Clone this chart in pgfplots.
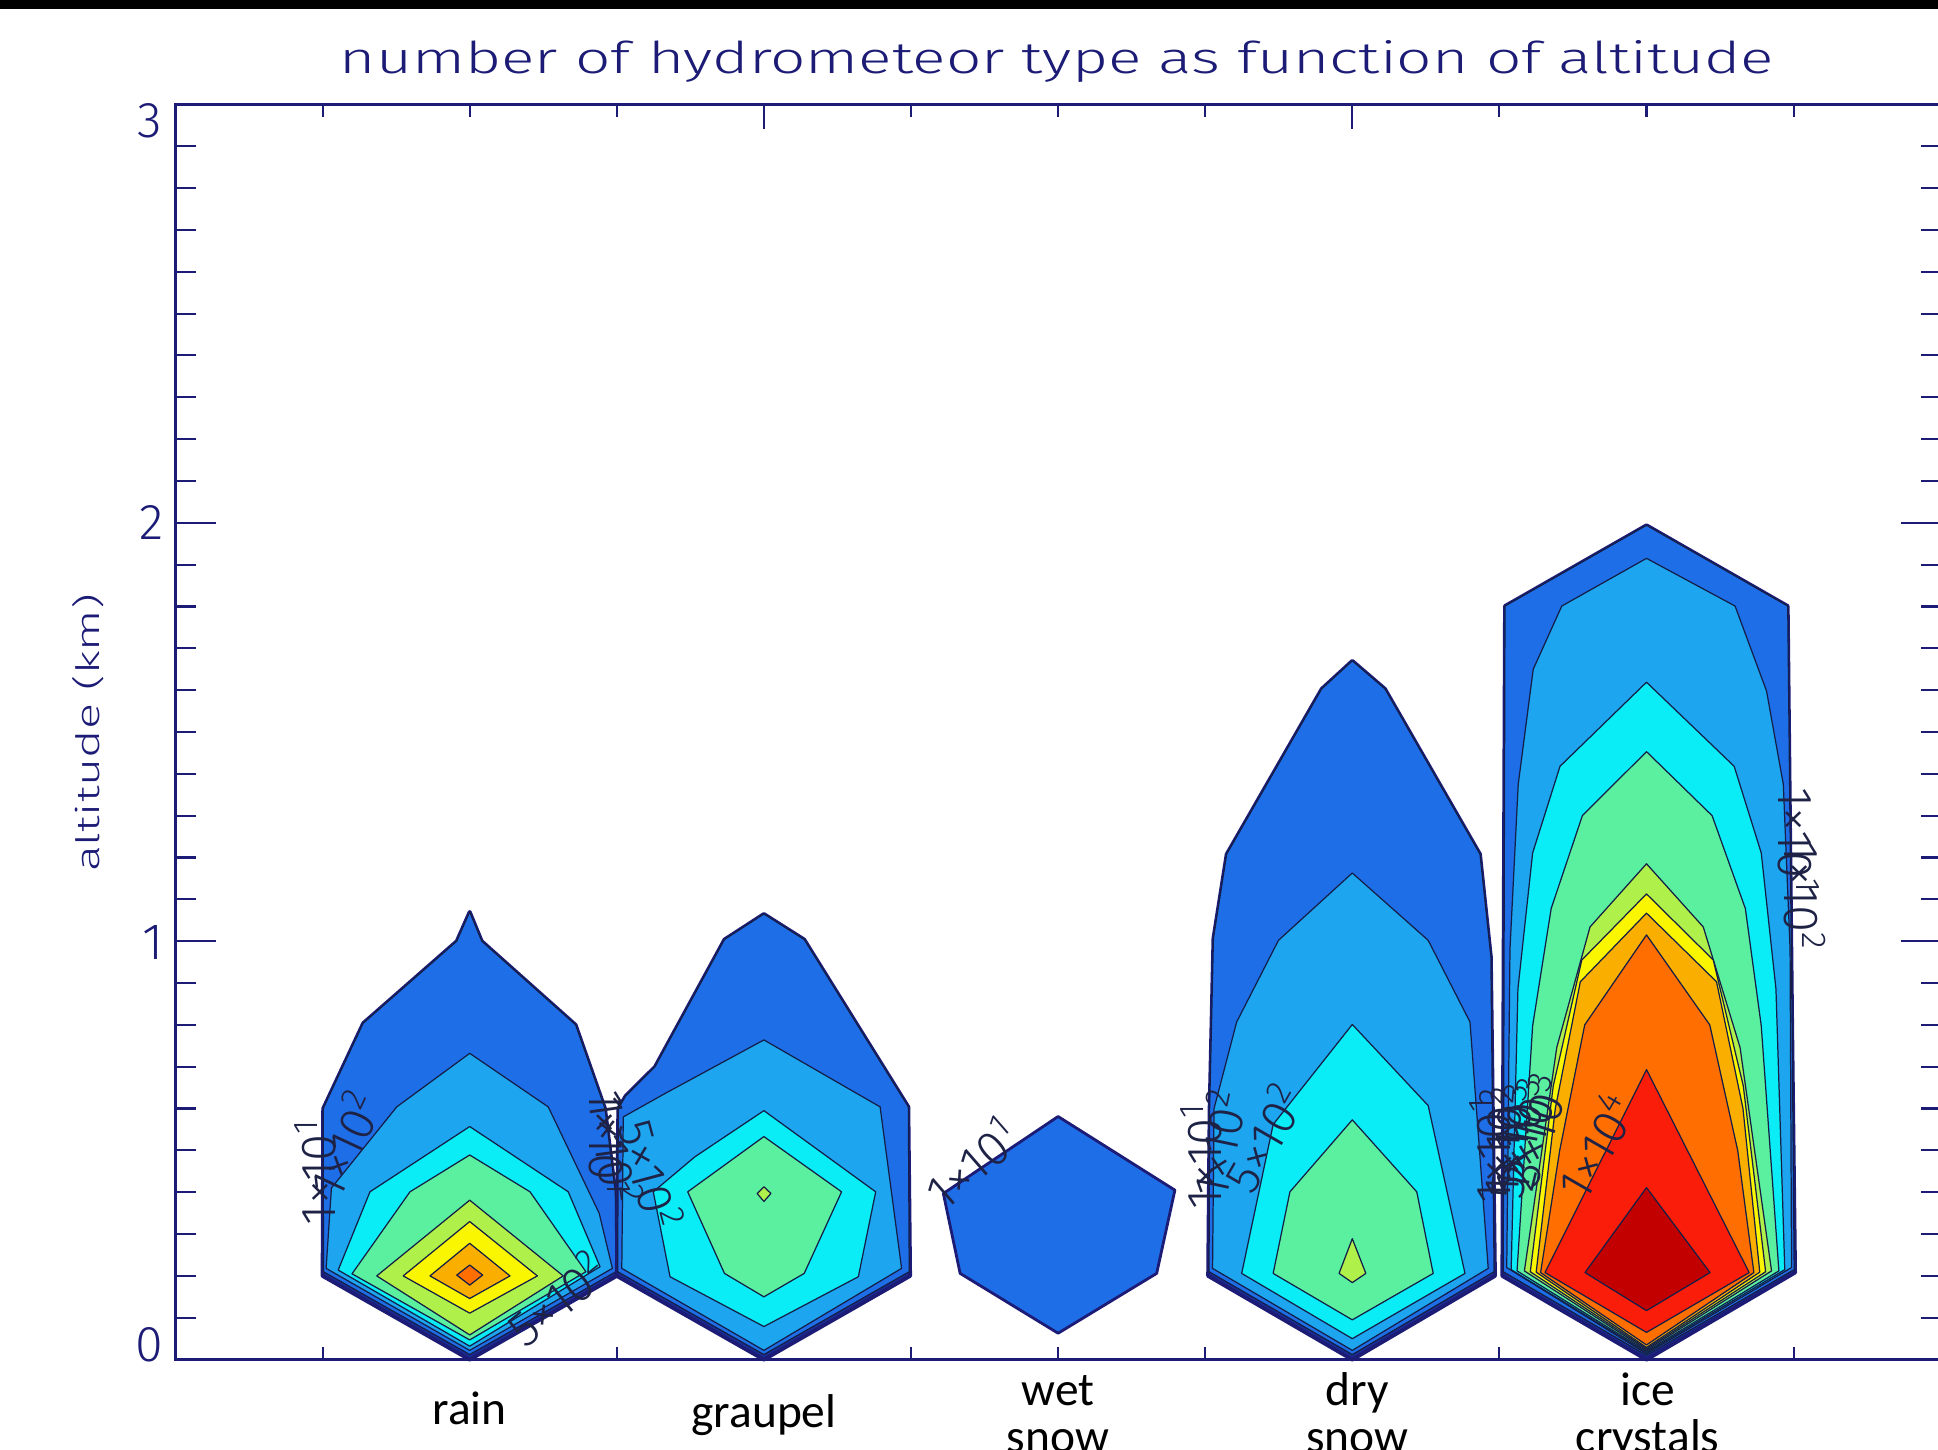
\documentclass[border=0pt]{standalone}
\usepackage{fontspec}
\setmainfont{Carlito}
\newfontfamily\idl{Fira Sans Light}
\usepackage{graphicx}
\usepackage{pgfplots}
\pgfplotsset{compat=1.18}

\definecolor{navy}{RGB}{28,28,118}
\definecolor{cNavy}{RGB}{25,45,150}
\definecolor{cBlue}{RGB}{30,110,232}
\definecolor{cSky}{RGB}{30,165,240}
\definecolor{cCyan}{RGB}{10,236,246}
\definecolor{cAqua}{RGB}{90,240,160}
\definecolor{cLgreen}{RGB}{175,240,75}
\definecolor{cYellow}{RGB}{250,245,0}
\definecolor{cOryel}{RGB}{250,175,0}
\definecolor{cOrange}{RGB}{255,110,0}
\definecolor{cRed}{RGB}{250,30,10}
\definecolor{cDred}{RGB}{195,0,0}
\definecolor{cLine}{RGB}{20,30,70}
\definecolor{labcol}{RGB}{30,35,70}

\newcommand{\sci}[2]{#1×10\textsuperscript{#2}}

\pgfplotsset{
  reg/.style={fill=#1, draw=cLine, line width=0.35pt, line join=round, mark=none},
  outer/.style={fill=cNavy, draw=navy, line width=1.1pt, line join=round, mark=none},
}
\tikzset{
  clabel/.style={font=\idl\fontsize{14}{15}\selectfont, text=labcol, inner sep=0pt},
  cat/.style={font=\fontsize{13.5}{14}\selectfont, text=black, anchor=base, inner sep=0pt},
  tlab/.style={font=\idl, text=navy, inner sep=0pt},
}

\begin{document}
\begin{tikzpicture}
\begin{axis}[
  at={(1.755cm,0.904cm)}, anchor=south west,
  scale only axis, width=17.652cm, height=12.552cm,
  xmin=0, xmax=6, ymin=0, ymax=3,
  xtick={0,2,4,6}, minor x tick num=3,
  ytick={0,1,2,3}, minor y tick num=9,
  xticklabels={}, yticklabels={},
  axis line style={navy, line width=0.8pt},
  xtick style={navy, line width=0.6pt, /pgfplots/major tick length=0.25cm, /pgfplots/minor tick length=0.125cm},
  ytick style={navy, line width=0.6pt, /pgfplots/major tick length=0.40cm, /pgfplots/minor tick length=0.20cm},
  clip=false,
]
% ---- rain
\addplot[outer] coordinates {(0.5,0.2) (0.502,0.6) (0.638,0.804) (0.956,1.0) (1.0,1.07) (1.041,1.0) (1.36,0.80) (1.46,0.60) (1.495,0.40) (1.5,0.2) (1.0,0.0)} -- cycle;
\addplot[reg=cBlue] coordinates {(0.503,0.21) (0.502,0.6) (0.638,0.804) (0.956,1.0) (1.0,1.07) (1.041,1.0) (1.36,0.80) (1.46,0.60) (1.495,0.40) (1.497,0.21) (1.0,0.012)} -- cycle;
\addplot[reg=cSky] coordinates {(0.512,0.218) (0.53,0.41) (0.752,0.604) (1.0,0.732) (1.267,0.604) (1.44,0.35) (1.485,0.218) (1.0,0.022)} -- cycle;
\addplot[reg=cCyan] coordinates {(0.553,0.214) (0.661,0.401) (1.0,0.557) (1.335,0.401) (1.443,0.222) (1.0,0.032)} -- cycle;
\addplot[reg=cAqua] coordinates {(0.60,0.205) (0.797,0.401) (1.0,0.489) (1.205,0.401) (1.395,0.21) (1.0,0.047)} -- cycle;
\addplot[reg=cLgreen] coordinates {(0.684,0.20) (1.0,0.381) (1.318,0.20) (1.0,0.059)} -- cycle;
\addplot[reg=cYellow] coordinates {(0.774,0.20) (1.0,0.330) (1.23,0.20) (1.0,0.111)} -- cycle;
\addplot[reg=cOryel] coordinates {(0.865,0.20) (1.0,0.278) (1.137,0.20) (1.0,0.146)} -- cycle;
\addplot[reg=cOrange] coordinates {(0.956,0.202) (1.0,0.226) (1.044,0.202) (1.0,0.178)} -- cycle;
% ---- graupel
\addplot[outer] coordinates {(1.5,0.2) (1.505,0.6) (1.53,0.63) (1.63,0.70) (1.866,1.004) (2.0,1.065) (2.137,1.004) (2.491,0.604) (2.497,0.2) (2.0,0.0)} -- cycle;
\addplot[reg=cBlue] coordinates {(1.503,0.21) (1.505,0.6) (1.53,0.63) (1.63,0.70) (1.866,1.004) (2.0,1.065) (2.137,1.004) (2.491,0.604) (2.494,0.21) (2.0,0.012)} -- cycle;
\addplot[reg=cSky] coordinates {(1.517,0.218) (1.522,0.58) (1.664,0.636) (2.0,0.764) (2.395,0.604) (2.468,0.218) (2.0,0.022)} -- cycle;
\addplot[reg=cCyan] coordinates {(1.681,0.198) (1.624,0.401) (1.766,0.485) (2.0,0.595) (2.38,0.401) (2.321,0.198) (2.0,0.079)} -- cycle;
\addplot[reg=cAqua] coordinates {(1.741,0.401) (2.0,0.533) (2.264,0.401) (2.137,0.206) (2.0,0.150) (1.866,0.206)} -- cycle;
\addplot[reg=cLgreen] coordinates {(1.977,0.397) (2.0,0.413) (2.024,0.397) (2.0,0.378)} -- cycle;
% ---- wet snow
\addplot[fill=cBlue, draw=navy, line width=0.8pt, line join=round, mark=none] coordinates {(2.61,0.397) (3.0,0.581) (3.397,0.405) (3.335,0.206) (3.0,0.063) (2.667,0.206)} -- cycle;
% ---- dry snow
\addplot[outer] coordinates {(3.51,0.2) (3.515,0.6) (3.528,1.007) (3.573,1.208) (3.896,1.603) (4.0,1.670) (4.111,1.603) (4.434,1.208) (4.471,0.963) (4.485,0.2) (4.0,0.0)} -- cycle;
\addplot[reg=cBlue] coordinates {(3.513,0.21) (3.515,0.6) (3.528,1.007) (3.573,1.208) (3.896,1.603) (4.0,1.670) (4.111,1.603) (4.434,1.208) (4.471,0.963) (4.482,0.21) (4.0,0.012)} -- cycle;
\addplot[reg=cSky] coordinates {(3.525,0.218) (3.53,0.6) (3.607,0.807) (3.749,1.002) (4.0,1.163) (4.258,1.002) (4.40,0.807) (4.462,0.218) (4.0,0.022)} -- cycle;
\addplot[reg=cCyan] coordinates {(3.624,0.206) (3.731,0.562) (4.0,0.801) (4.258,0.607) (4.383,0.206) (4.0,0.05)} -- cycle;
\addplot[reg=cAqua] coordinates {(3.731,0.206) (3.788,0.401) (4.0,0.573) (4.219,0.401) (4.275,0.206) (4.0,0.095)} -- cycle;
\addplot[reg=cLgreen] coordinates {(3.955,0.206) (4.0,0.289) (4.046,0.206) (4.0,0.184)} -- cycle;
% ---- ice crystals
\addplot[outer] coordinates {(4.51,0.2) (4.519,1.801) (5.0,1.994) (5.48,1.801) (5.495,0.8) (5.505,0.208) (5.0,0.0)} -- cycle;
\addplot[reg=cBlue] coordinates {(4.513,0.21) (4.519,1.801) (5.0,1.994) (5.48,1.801) (5.495,0.8) (5.502,0.215) (5.0,0.010)} -- cycle;
\addplot[reg=cSky] coordinates {(4.525,0.22) (4.536,0.982) (4.564,1.375) (4.615,1.65) (4.712,1.801) (5.0,1.915) (5.301,1.801) (5.408,1.598) (5.465,1.375) (5.488,0.982) (5.493,0.22) (5.0,0.014)} -- cycle;
\addplot[reg=cCyan] coordinates {(4.54,0.215) (4.563,0.886) (4.613,1.211) (4.706,1.418) (5.0,1.619) (5.298,1.418) (5.39,1.211) (5.44,0.886) (5.47,0.215) (5.0,0.017)} -- cycle;
\addplot[reg=cAqua] coordinates {(4.56,0.212) (4.613,0.798) (4.676,1.078) (4.782,1.30) (5.0,1.453) (5.223,1.30) (5.336,1.078) (5.39,0.798) (5.45,0.212) (5.0,0.020)} -- cycle;
\addplot[reg=cLgreen] coordinates {(4.585,0.212) (4.695,0.746) (4.808,1.034) (5.0,1.185) (5.193,1.034) (5.318,0.746) (5.425,0.212) (5.0,0.023)} -- cycle;
\addplot[reg=cYellow] coordinates {(4.605,0.21) (4.683,0.654) (4.78,0.955) (5.0,1.113) (5.227,0.955) (5.329,0.654) (5.405,0.21) (5.0,0.026)} -- cycle;
\addplot[reg=cOryel] coordinates {(4.625,0.209) (4.69,0.60) (4.775,0.903) (5.0,1.067) (5.238,0.903) (5.328,0.60) (5.385,0.209) (5.0,0.029)} -- cycle;
\addplot[reg=cOrange] coordinates {(4.64,0.208) (4.705,0.50) (4.79,0.80) (5.0,1.015) (5.215,0.80) (5.31,0.50) (5.365,0.208) (5.0,0.035)} -- cycle;
\addplot[reg=cRed] coordinates {(4.655,0.208) (5.0,0.693) (5.349,0.208) (5.0,0.065)} -- cycle;
\addplot[reg=cDred] coordinates {(4.791,0.208) (5.0,0.411) (5.216,0.208) (5.0,0.117)} -- cycle;

% contour labels
\node[clabel, rotate=90] at (axis cs:0.475,0.449) {\sci{1}{1}};
\node[clabel, rotate=65] at (axis cs:0.571,0.517) {\sci{1}{2}};
\node[clabel, rotate=39] at (axis cs:1.294,0.148) {\sci{5}{2}};
\node[clabel, rotate=-90] at (axis cs:1.475,0.517) {\sci{1}{1}};
\node[clabel, rotate=-82] at (axis cs:1.50,0.50) {\sci{1}{2}};
\node[clabel, rotate=-75] at (axis cs:1.62,0.443) {\sci{5}{2}};
\node[clabel, rotate=41] at (axis cs:2.707,0.472) {\sci{1}{1}};
\node[clabel, rotate=90] at (axis cs:3.487,0.487) {\sci{1}{1}};
\node[clabel, rotate=78] at (axis cs:3.542,0.517) {\sci{1}{2}};
\node[clabel, rotate=60] at (axis cs:3.697,0.532) {\sci{5}{2}};
\node[clabel, rotate=90] at (axis cs:4.47,0.50) {\sci{1}{1}};
\node[clabel, rotate=88] at (axis cs:4.50,0.52) {\sci{1}{2}};
\node[clabel, rotate=85] at (axis cs:4.53,0.52) {\sci{5}{2}};
\node[clabel, rotate=80] at (axis cs:4.56,0.53) {\sci{1}{3}};
\node[clabel, rotate=76] at (axis cs:4.59,0.54) {\sci{2}{3}};
\node[clabel, rotate=72] at (axis cs:4.62,0.55) {\sci{3}{3}};
\node[clabel, rotate=60] at (axis cs:4.825,0.513) {\sci{1}{4}};
\node[clabel, rotate=-90] at (axis cs:5.517,1.24) {\sci{1}{1}};
\node[clabel, rotate=-90] at (axis cs:5.538,1.108) {\sci{1}{2}};

% y tick labels
\node[tlab] at (axis cs:-0.088,2.960) {\resizebox{!}{0.34cm}{3}};
\node[tlab] at (axis cs:-0.083,2.001) {\resizebox{!}{0.34cm}{2}};
\node[tlab] at (axis cs:-0.075,0.996) {\resizebox{!}{0.34cm}{1}};
\node[tlab] at (axis cs:-0.088,0.036) {\resizebox{!}{0.34cm}{0}};

% category names
\node[cat] at (axis cs:1.0,-0.156) {rain};
\node[cat] at (axis cs:2.0,-0.163) {graupel};
\node[cat] at (axis cs:3.0,-0.109) {wet};
\node[cat] at (axis cs:3.0,-0.222) {snow};
\node[cat] at (axis cs:4.017,-0.109) {dry};
\node[cat] at (axis cs:4.017,-0.222) {snow};
\node[cat] at (axis cs:5.004,-0.109) {ice};
\node[cat] at (axis cs:5.004,-0.222) {crystals};
\end{axis}

\node[anchor=base, text=navy, inner sep=0pt] at (10.57cm,13.76cm)
  {\resizebox{14.34cm}{0.33cm}{\idl number of hydrometeor type as function of altitude}};
\node[rotate=90, anchor=base, text=navy, inner sep=0pt] at (0.99cm,7.17cm)
  {\resizebox{2.78cm}{0.27cm}{\idl altitude (km)}};

\fill[black] (0,14.41cm) rectangle (19.38cm,14.5cm);
\pgfresetboundingbox
\path[use as bounding box] (0,0) rectangle (19.38cm,14.5cm);
\end{tikzpicture}
\end{document}
